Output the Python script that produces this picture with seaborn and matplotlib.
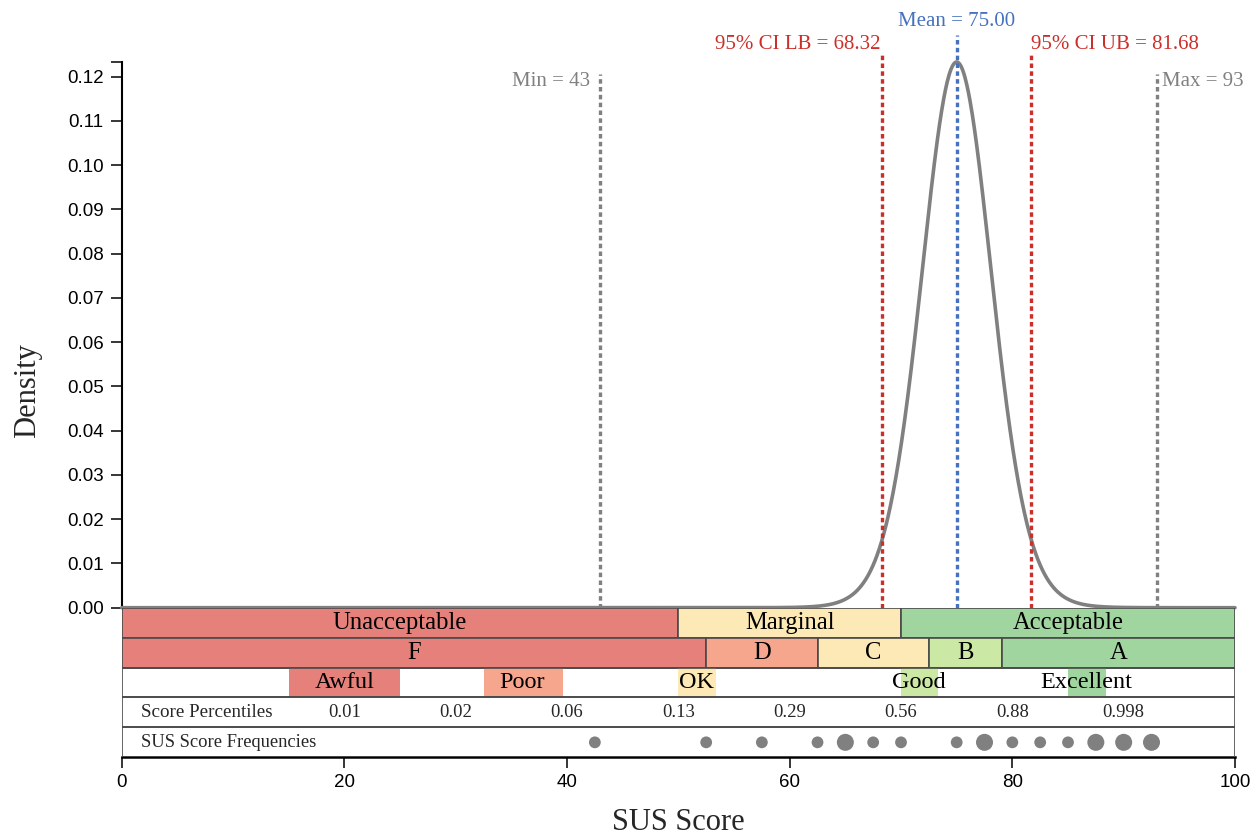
import math
import numpy as np
import pandas as pd
import matplotlib
matplotlib.use("Agg")
import matplotlib.pyplot as plt
import seaborn as sns

# ---------------- data ----------------
scores = [42.5, 52.5, 57.5, 62.5, 65, 65, 67.5, 70, 75, 77.5, 77.5, 80,
          82.5, 85, 87.5, 87.5, 90, 90, 92.5, 92.5]
mean_value = 75.00
ci_lower = 68.32
ci_upper = 81.68
min_label = 43
max_label = 93

accept_labels = ["Unacceptable", "Marginal", "Acceptable"]
accept_edges = [0, 50, 70, 100]

grade_labels = ["F", "D", "C", "B", "A"]
grade_edges = [0, 52.5, 62.5, 72.5, 79.1, 100]

adjective_labels = ["Awful", "Poor", "OK", "Good", "Excellent"]
adjective_text_x = [20, 36, 51.6, 71.6, 86.6]
adjective_start = [15, 32.5, 50, 70, 85]
adjective_end = [25, 39.6, 53.4, 73.3, 88.4]

percentile_x = [20, 30, 40, 50, 60, 70, 80, 90]
percentile_labels = ["0.01", "0.02", "0.06", "0.13", "0.29", "0.56", "0.88", "0.998"]

x_ticks = [0, 20, 40, 60, 80, 100]
y_ticks = [0.00, 0.01, 0.02, 0.03, 0.04, 0.05, 0.06, 0.07, 0.08, 0.09, 0.10, 0.11, 0.12]

# ---------------- style ----------------
RED = "#E5807A"
YELLOW = "#FDE9B6"
GREEN = "#A1D5A0"
SALMON = "#F6A68D"
LGREEN = "#CBE8A4"
accept_colors = [RED, YELLOW, GREEN]
grade_colors = [RED, SALMON, YELLOW, LGREEN, GREEN]
adjective_colors = [RED, SALMON, YELLOW, LGREEN, GREEN]
EDGE = "#4a4a4a"
GRAY = "#808080"
CI_RED = "#CC2F2A"
BLUE = "#4671BF"

sns.set_style("ticks")
plt.rcParams["font.family"] = ["Liberation Sans", "DejaVu Sans"]
SERIF = ["Liberation Serif", "DejaVu Serif"]

W, H = 1257, 835
fig = plt.figure(figsize=(W / 100, H / 100), dpi=100)
x0, x1 = 121.7, 1235.0
y_top, y_zero, y_bot = 62.0, 607.7, 757.3
ax = fig.add_axes([x0 / W, 1 - y_zero / H, (x1 - x0) / W, (y_zero - y_top) / H])
axb = fig.add_axes([x0 / W, 1 - y_bot / H, (x1 - x0) / W, (y_bot - y_zero) / H])

# ---------------- density curve (t distribution of the mean) ----------------
s = pd.Series(scores)
n = len(s)
se = s.std(ddof=1) / math.sqrt(n)
dof = n - 1
xs = np.linspace(0, 100, 2001)
const = math.exp(math.lgamma((dof + 1) / 2) - math.lgamma(dof / 2)) / math.sqrt(dof * math.pi) / se
dens = const * (1 + ((xs - s.mean()) / se) ** 2 / dof) ** (-(dof + 1) / 2)
peak = dens.max()

sns.lineplot(x=xs, y=dens, color=GRAY, lw=2.6, ax=ax, clip_on=False, zorder=3)
ax.set_xlim(0, 100)
ax.set_ylim(0, peak)

for sp in ["top", "right", "bottom"]:
    ax.spines[sp].set_visible(False)
ax.spines["left"].set_linewidth(1.5)
ax.spines["left"].set_color("black")
ax.set_xticks([])
ax.set_yticks(y_ticks)
ax.set_yticklabels([f"{v:.2f}" for v in y_ticks])
ax.set_yticks([peak], minor=True)
ax.tick_params(axis="y", which="both", length=8, width=1.1, pad=5, labelsize=13.5,
               colors="black", direction="out")
ax.set_xlabel("")
ax.set_ylabel("")

# reference lines
dash = dict(lw=2.4, linestyle=(0, (1.35, 1.0)), clip_on=False, solid_capstyle="butt",
            dash_capstyle="butt", zorder=4)
ax.plot([min_label, min_label], [0, peak * 0.978], color=GRAY, **dash)
ax.plot([max_label, max_label], [0, peak * 0.978], color=GRAY, **dash)
ax.plot([ci_lower, ci_lower], [0, peak * 1.0127], color=CI_RED, **dash)
ax.plot([ci_upper, ci_upper], [0, peak * 1.0127], color=CI_RED, **dash)
ax.plot([mean_value, mean_value], [0, peak * 1.0495], color=BLUE, **dash)

tkw = dict(family=SERIF, fontsize=15, va="baseline", annotation_clip=False,
           textcoords="offset points")
ax.annotate(f"Min = {min_label}", xy=(min_label, peak * 0.956), xytext=(-7.5, 0),
            ha="right", color=GRAY, **tkw)
ax.annotate(f"Max = {max_label}", xy=(max_label, peak * 0.956), xytext=(3.5, 0),
            ha="left", color=GRAY, **tkw)
ax.annotate(f"95% CI LB = {ci_lower:.2f}", xy=(ci_lower, peak * 1.0232), xytext=(-1, 0),
            ha="right", color=CI_RED, **tkw)
ax.annotate(f"95% CI UB = {ci_upper:.2f}", xy=(ci_upper, peak * 1.0232), xytext=(0, 0),
            ha="left", color=CI_RED, **tkw)
ax.annotate(f"Mean = {mean_value:.2f}", xy=(mean_value, peak * 1.066), xytext=(0, 0),
            ha="center", color=BLUE, **tkw)

# ---------------- bands ----------------
axb.set_xlim(0, 100)
axb.set_ylim(5, 0)
TXT_DY = -0.07

def draw_row(ax_, row, edges, labels, colors, size=17.7):
    lefts = edges[:-1]
    widths = [b - a for a, b in zip(edges[:-1], edges[1:])]
    ax_.barh([row + 0.5] * len(lefts), widths, left=lefts, height=1.0, color=colors,
             edgecolor=EDGE, linewidth=1.2, zorder=2)
    for a, b, lab in zip(edges[:-1], edges[1:], labels):
        ax_.text((a + b) / 2, row + 0.5 + TXT_DY, lab, ha="center", va="center_baseline",
                 family=SERIF, fontsize=size, color="black", zorder=5)

draw_row(axb, 0, accept_edges, accept_labels, accept_colors)
draw_row(axb, 1, grade_edges, grade_labels, grade_colors)

# adjective row
axb.barh([2.5] * len(adjective_start), [b - a for a, b in zip(adjective_start, adjective_end)],
         left=adjective_start, height=1.0, color=adjective_colors, linewidth=0, zorder=2)
for xt, lab in zip(adjective_text_x, adjective_labels):
    axb.text(xt, 2.5 + TXT_DY, lab, ha="center", va="center_baseline", family=SERIF,
             fontsize=17.5, color="black", zorder=5)

# outlines for rows 3-5
axb.barh([2.5, 3.5, 4.5], [100, 100, 100], left=0, height=1.0, facecolor="none",
         edgecolor=EDGE, linewidth=1.2, zorder=3)

# percentiles
axb.text(1.7, 3.5 + TXT_DY, "Score Percentiles", ha="left", va="center_baseline",
         family=SERIF, fontsize=13.7, zorder=5)
for xp, lab in zip(percentile_x, percentile_labels):
    axb.text(xp, 3.5 + TXT_DY, lab, ha="center", va="center_baseline", family=SERIF,
             fontsize=13.4, zorder=5)

# frequencies
axb.text(1.7, 4.5 + TXT_DY, "SUS Score Frequencies", ha="left", va="center_baseline",
         family=SERIF, fontsize=13.3, zorder=5)
freq = s.value_counts().sort_index().rename_axis("score").reset_index(name="count")
freq["row"] = 4.5
sns.scatterplot(data=freq, x="score", y="row", size="count", sizes={1: 72, 2: 150},
                color=GRAY, edgecolor="none", legend=False, ax=axb, zorder=6, clip_on=False)

for sp in ["top", "right", "left"]:
    axb.spines[sp].set_visible(False)
axb.spines["bottom"].set_linewidth(1.8)
axb.spines["bottom"].set_color("black")
axb.set_yticks([])
axb.set_xticks(x_ticks)
axb.set_xticklabels([str(t) for t in x_ticks])
axb.tick_params(axis="x", length=8, width=1.1, pad=4, labelsize=13.5, colors="black")
axb.set_ylabel("")
axb.set_xlabel("")

fig.text((x0 + x1) / 2 / W, 1 - 823 / H, "SUS Score", ha="center", va="center",
         family=SERIF, fontsize=22)
fig.text(28 / W, 1 - 391 / H, "Density", ha="center", va="center", rotation=90,
         family=SERIF, fontsize=22)

fig.savefig("out.png", dpi=100)
